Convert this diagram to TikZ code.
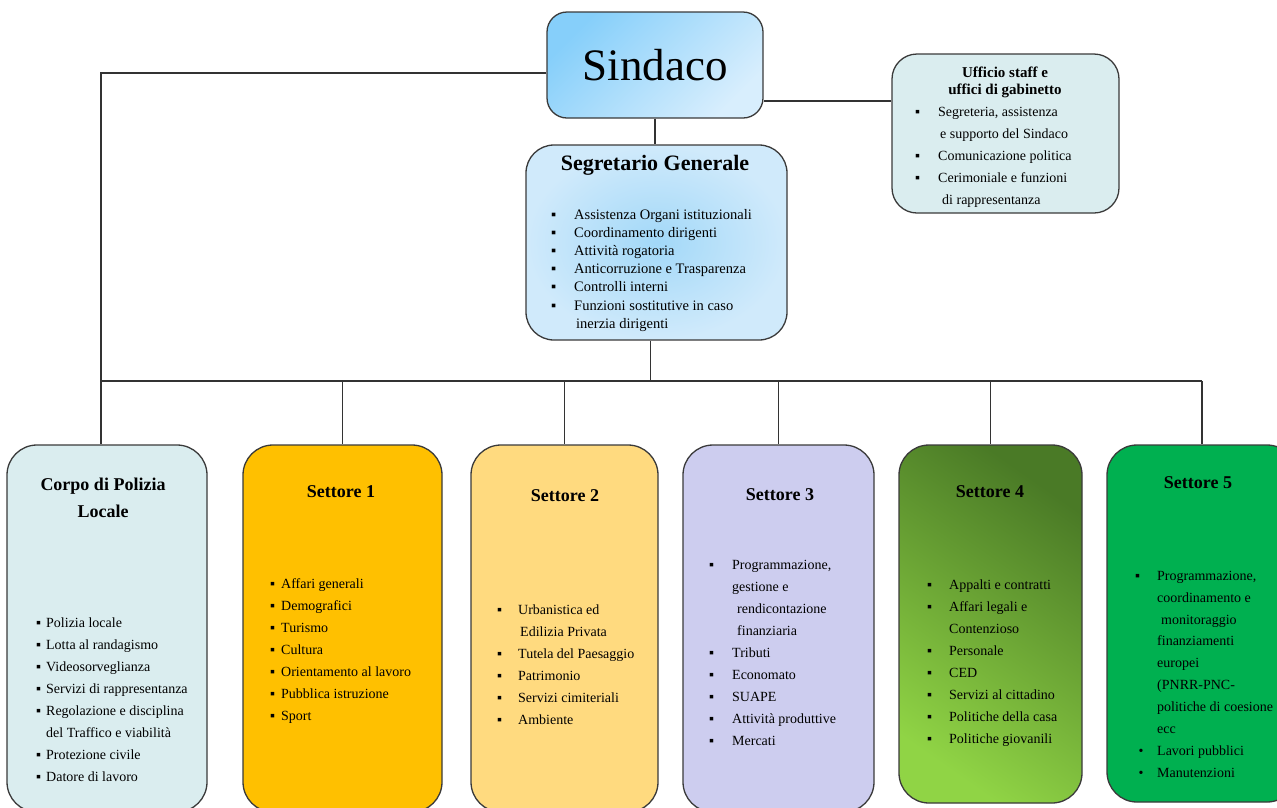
\documentclass[tikz,border=0pt]{standalone}
\usepackage{fontspec}
\setmainfont{Liberation Serif}

\definecolor{boxline}{HTML}{3A3A3A}
\definecolor{sindtop}{HTML}{86CFFA}
\definecolor{sindbot}{HTML}{D8EEFD}
\definecolor{segin}{HTML}{A2D8F8}
\definecolor{segout}{HTML}{D0EAFB}
\definecolor{palecol}{HTML}{DAEDEF}
\definecolor{set1col}{HTML}{FFC000}
\definecolor{set2col}{HTML}{FFDA7F}
\definecolor{set3col}{HTML}{CDCDEF}
\definecolor{set4dark}{HTML}{4A7A26}
\definecolor{set4light}{HTML}{90D445}
\definecolor{set5col}{HTML}{00B050}

% bullet and indent for the lists
\newcommand{\itm}[1]{\makebox[#1pt][l]{▪}}
\newcommand{\ind}[1]{\hspace*{#1pt}}

\tikzset{
  box/.style={draw=boxline, line width=1.3pt, rounded corners=30pt, inner sep=0pt},
  conn/.style={draw=black!80, line width=1.1pt},
  title/.style={font=\bfseries\fontsize{18}{27}\selectfont, align=center},
  items/.style={font=\fontsize{14}{22}\selectfont, align=left, anchor=north west, inner sep=0pt},
}

\begin{document}
\begin{tikzpicture}[x=1pt, y=-1pt]
  \useasboundingbox (0,0) rectangle (1277,807);
  \clip (0,0) rectangle (1277,807);

  % Top boxes:
  \node[box, rounded corners=20pt, top color=sindtop, bottom color=sindbot, shading angle=45,
        minimum width=216pt, minimum height=106pt, font=\fontsize{45}{50}\selectfont] (sindaco) at (655,65) {Sindaco};
  \node[box, rounded corners=28pt, inner color=segin, outer color=segout,
        minimum width=261pt, minimum height=195pt] (segretario) at (656.5,242.5) {};
  \node[box, rounded corners=25pt, fill=palecol, minimum width=227pt, minimum height=159pt] (ufficio) at (1005.5,133.5) {};

  \node[font=\bfseries\fontsize{22}{26}\selectfont] (segtitle) at (655,165) {Segretario Generale};
  \node[items, font=\fontsize{14.5}{18.2}\selectfont] (seglist) at (551,206.2)
    {\strut\itm{23}Assistenza Organi istituzionali\\ \itm{23}Coordinamento dirigenti\\
     \itm{23}Attività rogatoria\\ \itm{23}Anticorruzione e Trasparenza\\ \itm{23}Controlli interni\\
     \itm{23}Funzioni sostitutive in caso\\ \ind{25}inerzia dirigenti};

  \node[title, font=\bfseries\fontsize{15}{17}\selectfont] (uftitle) at (1005,82) {Ufficio staff e\\ uffici di gabinetto};
  \node[items] (uflist) at (915,100.6)
    {\strut\itm{23}Segreteria, assistenza\\ \ind{25}e supporto del Sindaco\\ \itm{23}Comunicazione politica\\
     \itm{23}Cerimoniale e funzioni\\ \ind{27}di rappresentanza};

  % Bottom boxes:
  \node[box, fill=palecol, minimum width=200pt, minimum height=367pt] (polizia) at (107,628.5) {};
  \node[box, fill=set1col, minimum width=199pt, minimum height=367pt] (settore1) at (342.5,628.5) {};
  \node[box, fill=set2col, minimum width=187pt, minimum height=367pt] (settore2) at (564.5,628.5) {};
  \node[box, fill=set3col, minimum width=191pt, minimum height=367pt] (settore3) at (778.5,628.5) {};
  \node[box, top color=set4dark, bottom color=set4light, shading angle=-35,
        minimum width=183pt, minimum height=358pt] (settore4) at (990.5,624) {};
  \node[box, fill=set5col, minimum width=190pt, minimum height=357pt] (settore5) at (1202,623.5) {};

  \node[title] (poltitle) at (103,497.5) {Corpo di Polizia\\ Locale};
  \node[title] (s1title) at (341,492) {Settore 1};
  \node[title] (s2title) at (565,496) {Settore 2};
  \node[title] (s3title) at (780,495) {Settore 3};
  \node[title] (s4title) at (990,492) {Settore 4};
  \node[title] (s5title) at (1198,483) {Settore 5};

  \node[items] (pollist) at (36,611.6)
    {\strut\itm{10}Polizia locale\\ \itm{10}Lotta al randagismo\\ \itm{10}Videosorveglianza\\
     \itm{10}Servizi di rappresentanza\\ \itm{10}Regolazione e disciplina\\ \ind{10}del Traffico e viabilità\\
     \itm{10}Protezione civile\\ \itm{10}Datore di lavoro};
  \node[items] (s1list) at (270,572.6)
    {\strut\itm{11}Affari generali\\ \itm{11}Demografici\\ \itm{11}Turismo\\ \itm{11}Cultura\\
     \itm{11}Orientamento al lavoro\\ \itm{11}Pubblica istruzione\\ \itm{11}Sport};
  \node[items] (s2list) at (497,598.6)
    {\strut\itm{21}Urbanistica ed\\ \ind{23}Edilizia Privata\\ \itm{21}Tutela del Paesaggio\\
     \itm{21}Patrimonio\\ \itm{21}Servizi cimiteriali\\ \itm{21}Ambiente};
  \node[items] (s3list) at (709,553.6)
    {\strut\itm{23}Programmazione,\\ \ind{23}gestione e\\ \ind{28}rendicontazione\\ \ind{28}finanziaria\\
     \itm{23}Tributi\\ \itm{23}Economato\\ \itm{23}SUAPE\\ \itm{23}Attività produttive\\ \itm{23}Mercati};
  \node[items] (s4list) at (927,573.6)
    {\strut\itm{22}Appalti e contratti\\ \itm{22}Affari legali e\\ \ind{22}Contenzioso\\ \itm{22}Personale\\
     \itm{22}CED\\ \itm{22}Servizi al cittadino\\ \itm{22}Politiche della casa\\ \itm{22}Politiche giovanili};
  \node[items, font=\fontsize{14}{21.9}\selectfont] (s5list) at (1135,564.7)
    {\strut\itm{22}Programmazione,\\ \ind{22}coordinamento e\\ \ind{26}monitoraggio\\ \ind{22}finanziamenti\\
     \ind{22}europei\\ \ind{22}(PNRR-PNC-\\ \ind{22}politiche di coesione\\ \ind{22}ecc\\
     \makebox[22pt][l]{\ •}Lavori pubblici\\ \makebox[22pt][l]{\ •}Manutenzioni};

  % Connectors:
  \coordinate (bus) at (650,381);
  \draw[conn] ([yshift=-8pt]sindaco.west) -| ([xshift=-6pt]polizia.north);
  \draw[conn] (sindaco.south) -- (sindaco.south |- segretario.north);
  \draw[conn] ([yshift=-36pt]sindaco.east) -- ([yshift=-36pt]sindaco.east -| ufficio.west);
  \draw[conn] ([xshift=-6pt]segretario.south) -- ([xshift=-6pt]segretario.south |- bus);
  \draw[conn] ([xshift=-6pt]polizia.north |- bus) -- (settore5.north |- bus);
  \foreach \s in {settore1,settore2,settore3,settore4,settore5}
    \draw[conn] (\s.north |- bus) -- (\s.north);
\end{tikzpicture}
\end{document}
